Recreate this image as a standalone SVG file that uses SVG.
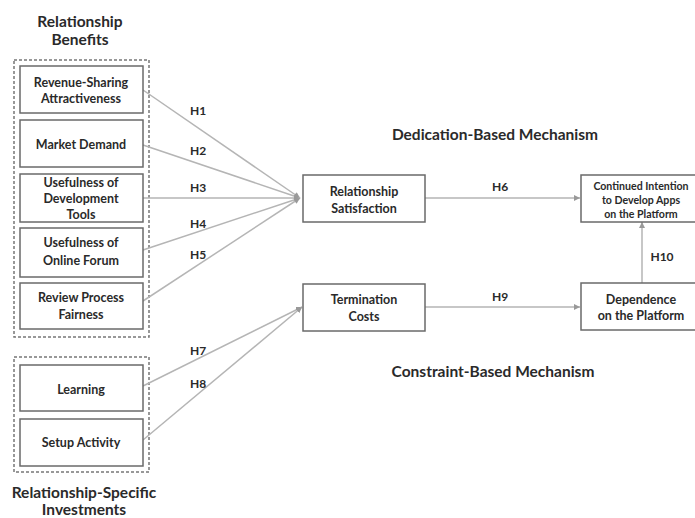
<svg xmlns="http://www.w3.org/2000/svg" width="695" height="518" viewBox="0 0 695 518">
<defs>
<style>
text{font-family:Lato,"Open Sans","Liberation Sans",sans-serif;font-weight:bold;fill:#2a2a2a;text-anchor:middle}
.t{font-size:15.5px}
.b{font-size:12.5px}
.s{font-size:10.6px}
.h{font-size:12px}
.box{fill:#fff;stroke:#6a6a6a;stroke-width:1.5}
.grp{fill:none;stroke:#777;stroke-width:1.5;stroke-dasharray:3,2}
.c{fill:none;stroke:#b5b5b5;stroke-width:1.5}
</style>
<marker id="a" viewBox="0 0 10 10" refX="10" refY="5" markerWidth="6" markerHeight="6" markerUnits="userSpaceOnUse" orient="auto">
<path d="M0,0 L10,5 L0,10 z" fill="#999"/>
</marker>
</defs>
<rect width="695" height="518" fill="#fff"/>
<g id="titles">
<text class="t" x="80" y="27">Relationship</text>
<text class="t" x="80" y="45">Benefits</text>
<text class="t" x="84" y="498">Relationship-Specific</text>
<text class="t" x="84" y="515">Investments</text>
<text class="t" x="495" y="140">Dedication-Based Mechanism</text>
<text class="t" x="493" y="377">Constraint-Based Mechanism</text>
</g>
<g id="groups">
<rect class="grp" x="14" y="60" width="135" height="277"/>
<rect class="grp" x="14" y="357" width="135" height="115"/>
</g>
<g id="connectors">
<line class="c" x1="143" y1="90" x2="300" y2="198" marker-end="url(#a)"/>
<line class="c" x1="143" y1="145" x2="300" y2="198" marker-end="url(#a)"/>
<line class="c" x1="143" y1="198" x2="300" y2="198" marker-end="url(#a)"/>
<line class="c" x1="143" y1="250" x2="300" y2="198" marker-end="url(#a)"/>
<line class="c" x1="143" y1="301" x2="300" y2="198" marker-end="url(#a)"/>
<line class="c" x1="143" y1="386" x2="302" y2="307" marker-end="url(#a)"/>
<line class="c" x1="143" y1="440" x2="302" y2="307" marker-end="url(#a)"/>
<line class="c" x1="425" y1="198" x2="580" y2="198" marker-end="url(#a)"/>
<line class="c" x1="425" y1="307" x2="580" y2="307" marker-end="url(#a)"/>
<line class="c" x1="642" y1="283" x2="642" y2="222" marker-end="url(#a)"/>
<text class="h" x="198" y="115">H1</text>
<text class="h" x="198" y="155">H2</text>
<text class="h" x="198" y="192">H3</text>
<text class="h" x="198" y="228">H4</text>
<text class="h" x="198" y="259">H5</text>
<text class="h" x="198" y="355">H7</text>
<text class="h" x="198" y="388">H8</text>
<text class="h" x="500" y="191">H6</text>
<text class="h" x="500" y="301">H9</text>
<text class="h" x="662" y="261">H10</text>
</g>
<g id="revenue">
<rect class="box" x="20" y="66" width="123" height="47"/>
<text class="b" x="81" y="87">Revenue-Sharing</text>
<text class="b" x="81" y="103">Attractiveness</text>
</g>
<g id="market">
<rect class="box" x="20" y="120" width="123" height="47"/>
<text class="b" x="81" y="149">Market Demand</text>
</g>
<g id="tools">
<rect class="box" x="20" y="174" width="123" height="48"/>
<text class="b" x="81" y="187">Usefulness of</text>
<text class="b" x="81" y="203">Development</text>
<text class="b" x="81" y="219">Tools</text>
</g>
<g id="forum">
<rect class="box" x="20" y="228" width="123" height="49"/>
<text class="b" x="81" y="247">Usefulness of</text>
<text class="b" x="81" y="265">Online Forum</text>
</g>
<g id="review">
<rect class="box" x="20" y="283" width="123" height="46"/>
<text class="b" x="81" y="302">Review Process</text>
<text class="b" x="81" y="319">Fairness</text>
</g>
<g id="learning">
<rect class="box" x="20" y="365" width="123" height="46"/>
<text class="b" x="81" y="394">Learning</text>
</g>
<g id="setup">
<rect class="box" x="20" y="419" width="123" height="47"/>
<text class="b" x="81" y="447">Setup Activity</text>
</g>
<g id="satisfaction">
<rect class="box" x="303" y="175" width="122" height="47"/>
<text class="b" x="364" y="196">Relationship</text>
<text class="b" x="364" y="213">Satisfaction</text>
</g>
<g id="termination">
<rect class="box" x="303" y="284" width="122" height="47"/>
<text class="b" x="364" y="304">Termination</text>
<text class="b" x="364" y="321">Costs</text>
</g>
<g id="continued">
<rect class="box" x="581" y="175" width="116" height="47"/>
<text class="s" x="641" y="190">Continued Intention</text>
<text class="s" x="641" y="204">to Develop Apps</text>
<text class="s" x="641" y="218">on the Platform</text>
</g>
<g id="dependence">
<rect class="box" x="581" y="283" width="116" height="47"/>
<text class="b" x="641" y="304">Dependence</text>
<text class="b" x="641" y="320">on the Platform</text>
</g>
</svg>
